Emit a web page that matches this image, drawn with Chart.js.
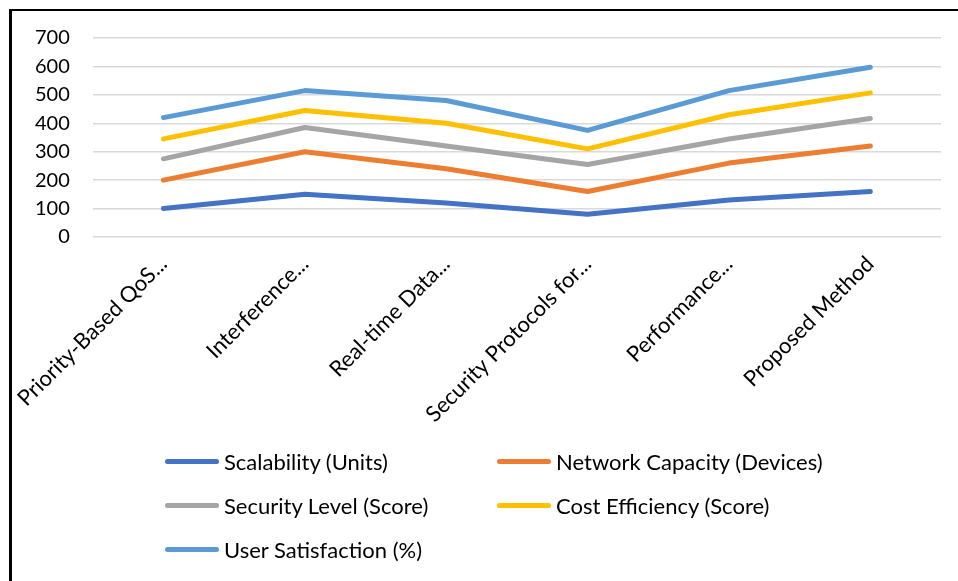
<!DOCTYPE html>
<html>
<head>
<meta charset="utf-8">
<script src="https://cdn.jsdelivr.net/npm/chart.js@4.4.0/dist/chart.umd.min.js"></script>
<style>
    html, body { margin: 0; padding: 0; background: #fff; }
    #wrap { position: relative; width: 958px; height: 581px; overflow: hidden; background: #fff; }
    #frame { position: absolute; left: 9px; top: 9px; right: -10px; bottom: -10px; border-top: 2px solid #000; border-left: 3px solid #000; }
    canvas { position: absolute; left: 0; top: 0; }
    #legend { position: absolute; left: 165px; top: 447px; display: grid; grid-template-columns: 332px 330px; row-gap: 16px; font-family: Lato, sans-serif; font-size: 22px; color: #000; }
    .item { display: flex; align-items: center; height: 28px; white-space: nowrap; }
    .swatch { width: 54px; height: 5px; border-radius: 3px; margin-right: 5px; }
</style>
</head>
<body>
<div id="wrap">
    <canvas id="chart" width="958" height="581"></canvas>
    <div id="frame"></div>
    <div id="legend"></div>
</div>
<script>
const categories = [
    "Priority-Based QoS...",
    "Interference...",
    "Real-time Data...",
    "Security Protocols for...",
    "Performance...",
    "Proposed Method"
];
const scalability = [100, 150, 120, 80, 130, 160];
const networkCapacity = [100, 150, 120, 80, 130, 160];
const securityLevel = [75, 85, 80, 95, 85, 97];
const costEfficiency = [70, 60, 80, 55, 85, 90];
const userSatisfaction = [75, 70, 80, 65, 85, 90];
const yTicks = [0, 100, 200, 300, 400, 500, 600, 700];

const seriesNames = ["Scalability (Units)", "Network Capacity (Devices)", "Security Level (Score)", "Cost Efficiency (Score)", "User Satisfaction (%)"];
const seriesColors = ["#4472C4", "#ED7D31", "#A5A5A5", "#FFC000", "#5B9BD5"];
const seriesData = [scalability, networkCapacity, securityLevel, costEfficiency, userSatisfaction];

Chart.defaults.font.family = "Lato";
Chart.defaults.font.size = 20;
Chart.defaults.color = "#000";

const ctx = document.getElementById("chart").getContext("2d");
const chart = new Chart(ctx, {
    type: "line",
    data: {
        labels: categories,
        datasets: seriesNames.map((name, i) => ({
            label: name,
            data: seriesData[i],
            borderColor: seriesColors[i],
            backgroundColor: seriesColors[i],
            borderWidth: 5,
            borderCapStyle: "round",
            borderJoinStyle: "round",
            pointRadius: 0,
            fill: false,
            tension: 0
        }))
    },
    options: {
        responsive: false,
        animation: false,
        layout: { padding: { top: 38, right: 17, left: 0, bottom: 0 } },
        plugins: {
            legend: { display: false },
            tooltip: { enabled: false }
        },
        scales: {
            x: {
                offset: true,
                grid: { display: false, drawTicks: false },
                border: { display: false },
                ticks: { minRotation: 45, maxRotation: 45, padding: 14, autoSkip: false, font: { size: 22 } },
                afterFit: (scale) => { scale.height = 344; }
            },
            y: {
                stacked: true,
                min: 0,
                max: 700,
                afterBuildTicks: (scale) => { scale.ticks = yTicks.map(v => ({ value: v })); },
                grid: { color: "#D9D9D9", lineWidth: 1.5, drawTicks: false },
                border: { display: false },
                ticks: { padding: 23 },
                afterFit: (scale) => { scale.width = 91; }
            }
        }
    }
});

const legendEl = document.getElementById("legend");
chart.data.datasets.forEach((ds) => {
    const item = document.createElement("div");
    item.className = "item";
    const sw = document.createElement("span");
    sw.className = "swatch";
    sw.style.background = ds.borderColor;
    const txt = document.createElement("span");
    txt.textContent = ds.label;
    item.appendChild(sw);
    item.appendChild(txt);
    legendEl.appendChild(item);
});
</script>
</body>
</html>
